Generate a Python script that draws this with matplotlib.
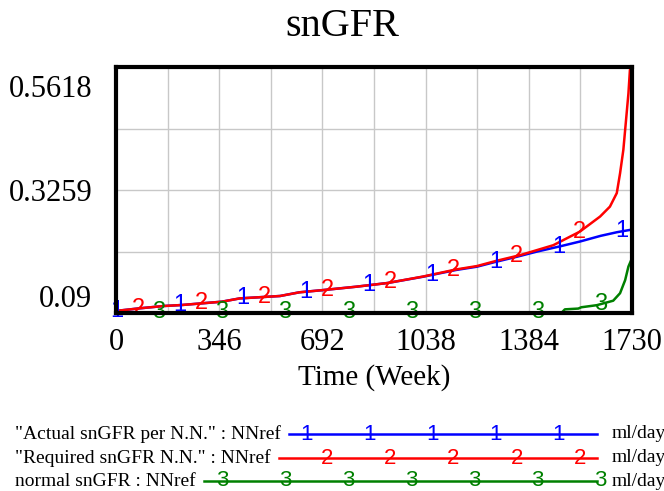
import numpy as np
import matplotlib
matplotlib.use("Agg")
import matplotlib.pyplot as plt
from matplotlib.lines import Line2D
from matplotlib.transforms import ScaledTranslation

# values (time in weeks)
weeks_actual = [0, 80, 160, 220, 355, 415, 550, 615, 695, 805, 910, 1030,
                1140, 1210, 1275, 1345, 1410, 1490, 1555, 1625, 1680, 1730]
actual_sngfr = [0.0940, 0.0990, 0.1034, 0.1053, 0.1117, 0.1180, 0.1226, 0.1297,
                0.1340, 0.1404, 0.1475, 0.1596, 0.1725, 0.1788, 0.1884, 0.1980,
                0.2076, 0.2180, 0.2270, 0.2380, 0.2450, 0.2500]

weeks_required = [0, 80, 160, 220, 355, 415, 550, 615, 695, 805, 910, 1030,
                  1140, 1210, 1275, 1355, 1466, 1555, 1623, 1656, 1679,
                  1690, 1701, 1710, 1718, 1723, 1730]
required_sngfr = [0.0940, 0.0990, 0.1034, 0.1053, 0.1117, 0.1180, 0.1226, 0.1297,
                  0.1340, 0.1404, 0.1475, 0.1600, 0.1735, 0.1800, 0.1900, 0.2010,
                  0.2200, 0.2460, 0.2750, 0.2940, 0.3200, 0.3580, 0.4030,
                  0.4600, 0.5110, 0.5560, 0.5618]

weeks_normal = [0, 1495, 1505, 1550, 1560, 1612, 1667, 1690, 1707, 1718, 1730]
normal_sngfr = [0.0912, 0.0912, 0.0970, 0.0985, 0.1010, 0.1050, 0.1136, 0.1280,
                0.1530, 0.1790, 0.1950]

x_ticks = [0, 346, 692, 1038, 1384, 1730]
y_ticks = [0.09, 0.3259, 0.5618]

series = [
    ('"Actual snGFR per N.N." : NNref', weeks_actual, actual_sngfr, "#0000ff", "1", 3),
    ('"Required snGFR N.N." : NNref', weeks_required, required_sngfr, "#ff0000", "2", 74),
    ("normal snGFR : NNref", weeks_normal, normal_sngfr, "#008000", "3", 144),
]
units = "ml/day"
MARK_STEP = 211.5

W, H = 664, 491
fig = plt.figure(figsize=(W / 100, H / 100), dpi=100)
ax = fig.add_axes([116 / W, 1 - 313 / H, 516 / W, 246 / H])

serif = "Liberation Serif"
sans = "Liberation Sans"

ax.set_xlim(x_ticks[0], x_ticks[-1])
ax.set_ylim(y_ticks[0], y_ticks[-1])

for label, xs, ys, color, mark, start in series:
    ax.plot(xs, ys, color=color, lw=1.8, zorder=3, clip_on=False)
    for mx in np.arange(start, x_ticks[-1] + 1, MARK_STEP):
        ax.text(mx, np.interp(mx, xs, ys), mark, color=color, family=sans,
                fontsize=17, ha="center", va="center", zorder=4, clip_on=False)

# grid: 10 vertical and 4 horizontal divisions
ax.set_xticks(x_ticks)
ax.set_xticks(np.linspace(x_ticks[0], x_ticks[-1], 11), minor=True)
ax.set_yticks(y_ticks)
ax.set_yticks(np.linspace(y_ticks[0], y_ticks[-1], 5), minor=True)
ax.grid(True, which="both", color="#c8c8c8", lw=1, zorder=0)
ax.tick_params(which="both", length=0)
ax.tick_params(axis="x", pad=11)
ax.tick_params(axis="y", pad=17)
ax.set_xticklabels([str(t) for t in x_ticks], family=serif, fontsize=22)
ax.set_yticklabels([f"{t:g}" for t in y_ticks], family=serif, fontsize=22)
ylabs = ax.get_yticklabels()
ylabs[0].set_transform(ylabs[0].get_transform() + ScaledTranslation(0, 0.17, fig.dpi_scale_trans))
ylabs[-1].set_transform(ylabs[-1].get_transform() + ScaledTranslation(0, -0.19, fig.dpi_scale_trans))

for sp in ax.spines.values():
    sp.set_linewidth(3)
    sp.set_color("black")
    sp.set_zorder(5)

ax.set_xlabel("Time (Week)", family=serif, fontsize=21, labelpad=5)
fig.text(342 / W, 1 - 27 / H, "snGFR", family=serif, fontsize=29, ha="center", va="center")

# legend rows in Vensim style
fig.canvas.draw()
renderer = fig.canvas.get_renderer()
row_y = [434, 458, 481]
line_end = 597
for (label, xs, ys, color, mark, start), py in zip(series, row_y):
    yf = 1 - py / H
    t = fig.text(15 / W, yf, label, family=serif, fontsize=14, ha="left", va="center")
    bb = t.get_window_extent(renderer)
    x0 = bb.x1 + 8
    fig.add_artist(Line2D([x0 / W, line_end / W], [yf, yf], color=color, lw=1.8,
                          transform=fig.transFigure))
    for mx in np.arange(start, x_ticks[-1] + 1, MARK_STEP):
        px = ax.transData.transform((mx, y_ticks[0]))[0]
        if x0 <= px <= line_end + 6:
            fig.text(px / W, yf, mark, color=color, family=sans, fontsize=16,
                     ha="center", va="center")
    fig.text(612 / W, yf, units, family=serif, fontsize=14, ha="left", va="center")

fig.savefig("out.png", dpi=100)
